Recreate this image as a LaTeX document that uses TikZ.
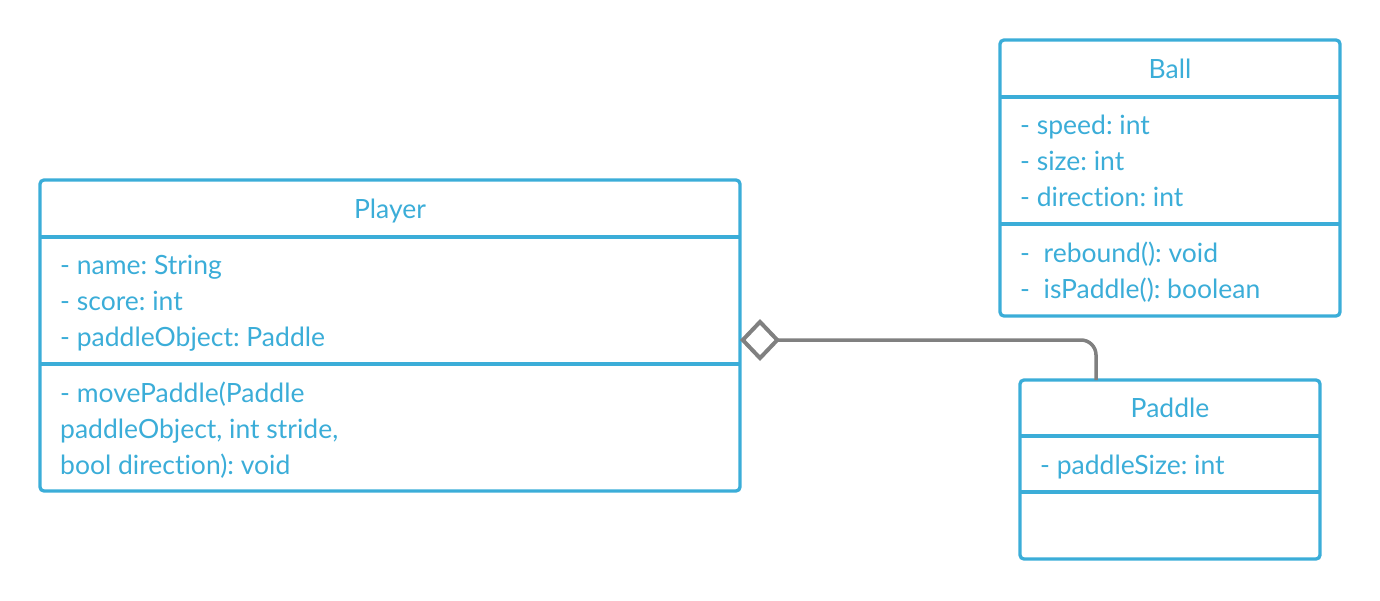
\documentclass[tikz,border=0pt]{standalone}
\usepackage{fontspec}
\setmainfont[RawFeature=-liga]{Lato}
\usetikzlibrary{arrows.meta}
\definecolor{umlblue}{HTML}{3BADD8}
\definecolor{umlgray}{HTML}{808080}
\tikzset{
  umlbox/.style={draw=umlblue, line width=3.3pt, rounded corners=4pt, rectangle, inner sep=0pt, outer sep=0pt, anchor=north west},
  divider/.style={draw=umlblue, line width=3.3pt},
  umltext/.style={text=umlblue, font=\fontsize{26.5}{32}\selectfont\frenchspacing, inner sep=0pt, anchor=base west},
  umltitle/.style={text=umlblue, font=\fontsize{26.5}{32}\selectfont\frenchspacing, inner sep=0pt, anchor=base},
  aggr/.style={draw=umlgray, line width=3.5pt, rounded corners=15pt, -{Diamond[open,length=40pt,width=42pt,line width=4pt]}}
}
\begin{document}
\begin{tikzpicture}[x=1pt,y=-1pt]
\useasboundingbox (0,0) rectangle (1380,600);
% Player
\node[umlbox, minimum width=700pt, minimum height=311pt] (player) at (40,180) {};
\draw[divider] (40,237) -- (740,237);
\draw[divider] (40,364) -- (740,364);
\node[umltitle] (ptitle) at (390,218) {Player};
\node[umltext] (pa1) at (60,274) {- name: String};
\node[umltext] (pa2) at (60,310) {- score: int};
\node[umltext] (pa3) at (60,346) {- paddleObject: Paddle};
\node[umltext] (pm1) at (60,402) {- movePaddle(Paddle};
\node[umltext] (pm2) at (60,438) {paddleObject, int stride,};
\node[umltext] (pm3) at (60,474) {bool direction): void};
% Ball
\node[umlbox, minimum width=340pt, minimum height=276pt] (ball) at (1000,40) {};
\draw[divider] (1000,97) -- (1340,97);
\draw[divider] (1000,224) -- (1340,224);
\node[umltitle] (btitle) at (1170,78) {Ball};
\node[umltext] (ba1) at (1020,134) {- speed: int};
\node[umltext] (ba2) at (1020,170) {- size: int};
\node[umltext] (ba3) at (1020,206) {- direction: int};
\node[umltext] (bm1) at (1020,262) {-\ \ rebound(): void};
\node[umltext] (bm2) at (1020,298) {-\ \ isPaddle(): boolean};
% Paddle
\node[umlbox, minimum width=300pt, minimum height=179pt] (paddle) at (1020,380) {};
\draw[divider] (1020,436) -- (1320,436);
\draw[divider] (1020,492) -- (1320,492);
\node[umltitle] (padtitle) at (1170,417) {Paddle};
\node[umltext] (pada1) at (1040,474) {- paddleSize: int};
% aggregation
\draw[aggr] ([xshift=-74pt]paddle.north) |- ([yshift=-4.5pt]player.east);
\end{tikzpicture}
\end{document}
